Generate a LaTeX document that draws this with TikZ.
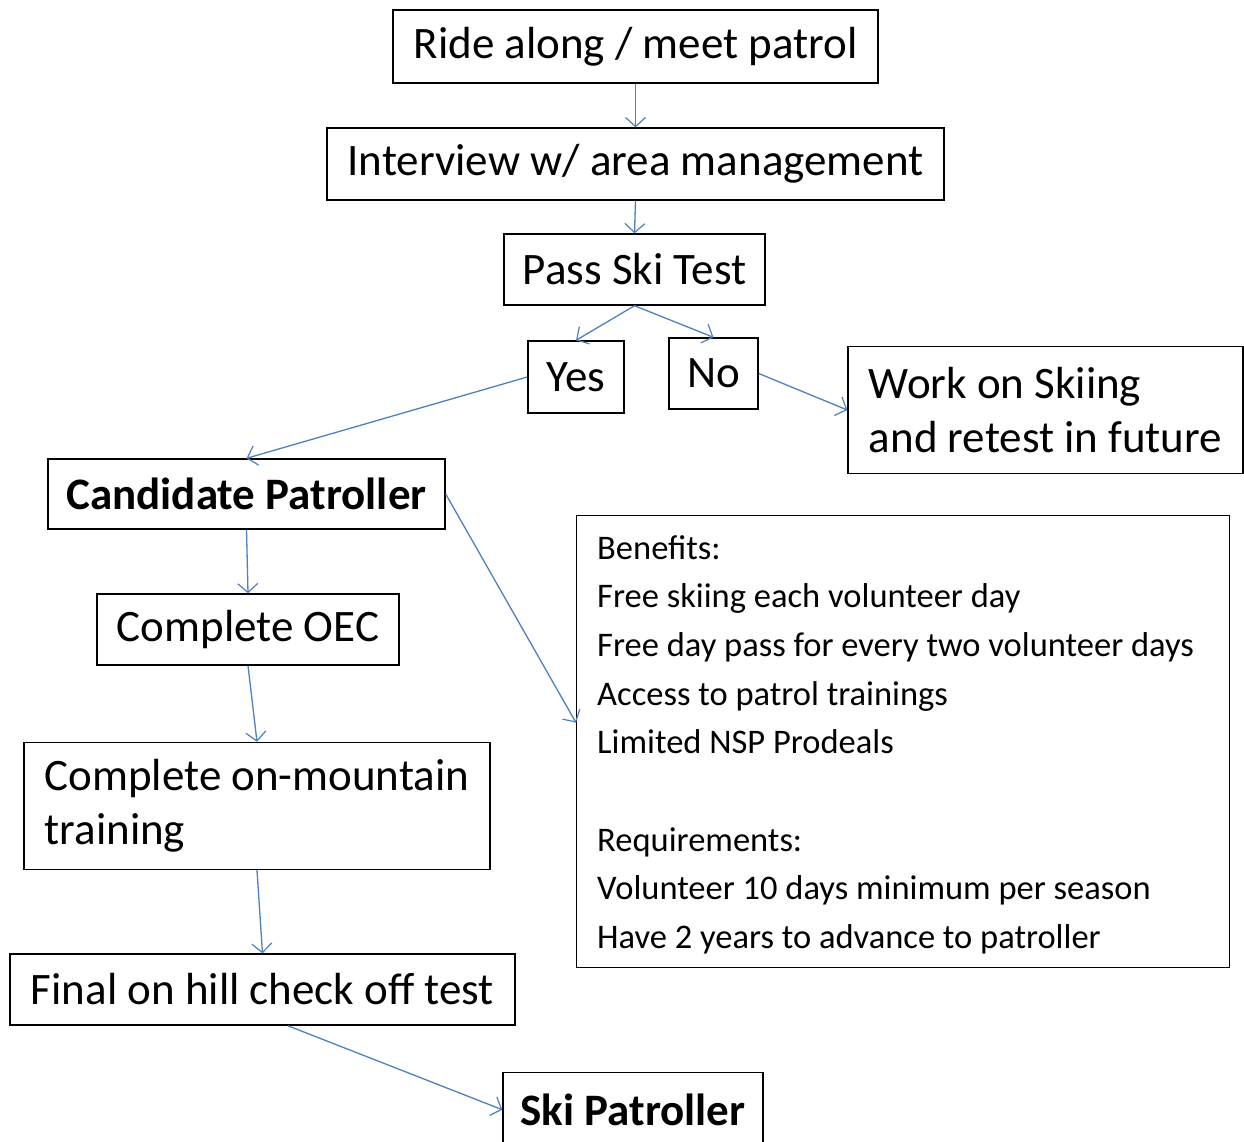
\documentclass[tikz,border=0pt]{standalone}
\usepackage{fontspec}
\setmainfont{Carlito}
\usetikzlibrary{arrows.meta,calc}
\definecolor{arrowblue}{RGB}{79,129,189}
\tikzset{
  box/.style={draw=black, line width=1.4pt, inner sep=0pt, font=\fontsize{45}{54}\selectfont},
  conn/.style={draw=arrowblue, line width=1.3pt, -{Straight Barb[length=9pt,width=20pt,line width=1.2pt]}},
}
\begin{document}
\begin{tikzpicture}[x=1pt,y=-1pt]
\clip (0,0) rectangle (1244,1141);
\fill[white] (0,0) rectangle (1244,1141);
\node[box, minimum width=485, minimum height=73] (ride) at (635.5,46.5) {Ride along / meet patrol};
\node[box, minimum width=617, minimum height=72] (interview) at (635.5,164) {Interview w/ area management};
\node[box, minimum width=261, minimum height=71] (pass) at (634.5,269.5) {Pass Ski Test};
\node[box, minimum width=96, minimum height=72] (yes) at (576,377) {Yes};
\node[box, minimum width=89, minimum height=71] (no) at (713.5,373.5) {No};
\node[box, minimum width=395, minimum height=127, align=left] (work) at (1045.5,410) {Work on Skiing\\and retest in future};
\node[box, minimum width=397, minimum height=70] (cand) at (246.5,494) {\bfseries Candidate Patroller};
\node[box, minimum width=302, minimum height=71] (oec) at (248,629.5) {Complete OEC};
\node[box, minimum width=466, minimum height=127, align=left] (mtn) at (257,806) {Complete on-mountain\\training};
\node[box, minimum width=505, minimum height=71] (final) at (262.5,989.5) {Final on hill check off test};
\node[box, minimum width=260, minimum height=74, anchor=north] (ski) at (633,1072) {\bfseries Ski Patroller};
\node[draw=black, line width=1.4pt, inner sep=0pt, minimum width=653, minimum height=452, anchor=north west] (benefits) at (576,515) {};
\node[anchor=north west, inner sep=0pt, align=left, font=\fontsize{34.5}{48.7}\selectfont] (benefitstext) at (597,535)
  {Benefits:\\Free skiing each volunteer day\\Free day pass for every two volunteer days\\Access to patrol trainings\\Limited NSP Prodeals\\[48.7pt]Requirements:\\Volunteer 10 days minimum per season\\Have 2 years to advance to patroller};
\draw[conn] (ride.south) -- (interview.north);
\draw[conn] (interview.south) -- (pass.north);
\draw[conn] (pass.south) -- (yes.north);
\draw[conn] (pass.south) -- (no.north);
\draw[conn] (yes.west) -- (cand.north);
\draw[conn] (no.east) -- (work.west);
\draw[conn] (cand.south) -- (oec.north);
\draw[conn] (cand.east) -- ($(benefits.north west)!0.458!(benefits.south west)$);
\draw[conn] (oec.south) -- (mtn.north);
\draw[conn] (mtn.south) -- (final.north);
\draw[conn] ($(final.south west)!0.55!(final.south east)$) -- (ski.west);
\end{tikzpicture}
\end{document}
